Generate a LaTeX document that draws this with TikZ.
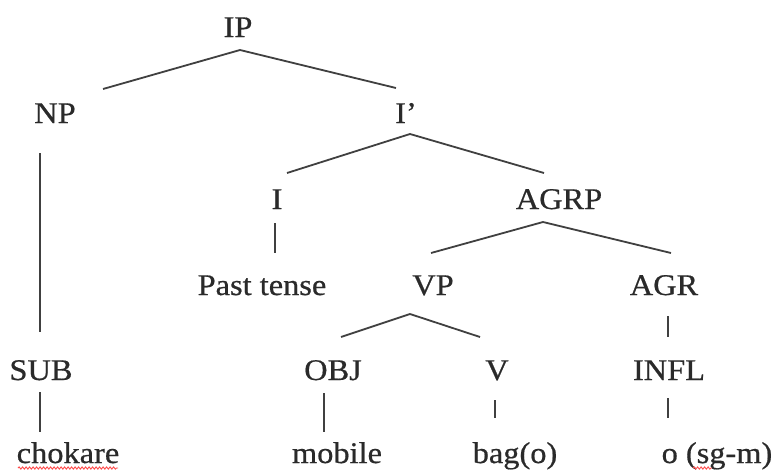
\documentclass[tikz,border=0pt]{standalone}
\usepackage{fontspec}
\setmainfont{Liberation Serif}[FakeStretch=1.08,FakeBold=0.6]
\usetikzlibrary{calc,decorations.pathmorphing}
\definecolor{ink}{HTML}{2A2A2A}
\begin{document}
\begin{tikzpicture}[x=1pt,y=-1pt,
  lab/.style={anchor=base,inner sep=0pt,text=ink,font=\fontsize{30}{36}\selectfont},
  edge/.style={draw=black!75,line width=1.8pt},
  squig/.style={draw=red!70,line width=0.9pt,decorate,decoration={snake,amplitude=1.1pt,segment length=3.5pt}}]
\useasboundingbox[fill=white] (0,0) rectangle (771,472);
% nodes
\node[lab] (IP)   at (238,37)  {IP};
\node[lab] (NP)   at (55,123)  {NP};
\node[lab] (Ib)   at (406,123) {I’};
\node[lab] (I)    at (277,209) {I};
\node[lab] (AGRP) at (559,209) {AGRP};
\node[lab] (Past) at (262,295) {Past tense};
\node[lab] (VP)   at (433,295) {VP};
\node[lab] (AGR)  at (664,295) {AGR};
\node[lab] (SUB)  at (41,380)  {SUB};
\node[lab] (OBJ)  at (333,380) {OBJ};
\node[lab] (V)    at (497,380) {V};
\node[lab] (INFL) at (669,380) {INFL};
\node[lab] (cho)  at (68,463)  {chokare};
\node[lab] (mob)  at (337,463) {mobile};
\node[lab] (bag)  at (515,463) {bag(o)};
\node[lab] (osg)  at (717,463) {o (sg-m)};
% connectors
\draw[edge] ($(IP.base)+(2,13)$) -- ($(NP.base)+(48,-34)$);
\draw[edge] ($(IP.base)+(2,13)$) -- ($(Ib.base)+(-10,-35)$);
\draw[edge] ($(NP.base)+(-15,30)$) -- ($(SUB.base)+(-1,-48)$);
\draw[edge] ($(Ib.base)+(4,11)$) -- ($(I.base)+(10,-36)$);
\draw[edge] ($(Ib.base)+(4,11)$) -- ($(AGRP.base)+(-15,-36)$);
\draw[edge] ($(I.base)+(-2,14)$) -- ($(Past.base)+(13,-42)$);
\draw[edge] ($(AGRP.base)+(-16,13)$) -- ($(VP.base)+(-2,-42)$);
\draw[edge] ($(AGRP.base)+(-16,13)$) -- ($(AGR.base)+(7,-42)$);
\draw[edge] ($(VP.base)+(-23,19)$) -- ($(OBJ.base)+(8,-43)$);
\draw[edge] ($(VP.base)+(-23,19)$) -- ($(V.base)+(-17,-43)$);
\draw[edge] ($(AGR.base)+(4,21)$) -- ($(INFL.base)+(-1,-43)$);
\draw[edge] ($(SUB.base)+(-1,12)$) -- ($(cho.base)+(-28,-31)$);
\draw[edge] ($(OBJ.base)+(-9,13)$) -- ($(mob.base)+(-13,-31)$);
\draw[edge] ($(V.base)+(-2,20)$) -- ($(bag.base)+(-20,-45)$);
\draw[edge] ($(INFL.base)+(-1,18)$) -- ($(osg.base)+(-49,-45)$);
% spell-check underlines
\draw[squig] ($(cho.base)+(-50,5)$) -- ($(cho.base)+(50,5)$);
\draw[squig] ($(osg.base)+(-24,5)$) -- ($(osg.base)+(-5,5)$);
\end{tikzpicture}
\end{document}
